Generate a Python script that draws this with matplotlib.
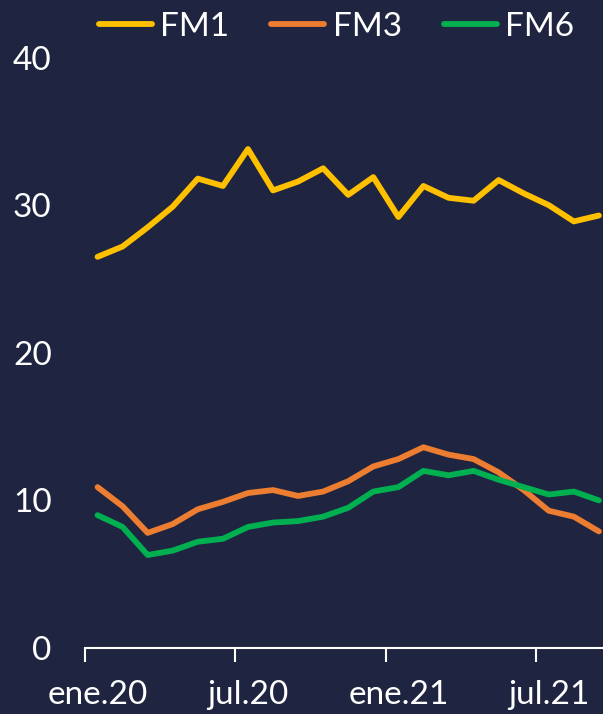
import matplotlib.pyplot as plt

months = ["ene.20", "feb.20", "mar.20", "abr.20", "may.20", "jun.20", "jul.20",
          "ago.20", "sep.20", "oct.20", "nov.20", "dic.20", "ene.21", "feb.21",
          "mar.21", "abr.21", "may.21", "jun.21", "jul.21", "ago.21", "sep.21"]

fm1 = [26.5, 27.2, 28.5, 29.9, 31.8, 31.3, 33.8, 31.0, 31.6, 32.5, 30.7,
       31.9, 29.2, 31.3, 30.5, 30.3, 31.7, 30.8, 30.0, 28.9, 29.3]
fm3 = [10.9, 9.6, 7.8, 8.4, 9.4, 9.9, 10.5, 10.7, 10.3, 10.6, 11.3,
       12.3, 12.8, 13.6, 13.1, 12.8, 11.9, 10.7, 9.3, 8.9, 7.9]
fm6 = [9.0, 8.2, 6.3, 6.6, 7.2, 7.4, 8.2, 8.5, 8.6, 8.9, 9.5,
       10.6, 10.9, 12.0, 11.7, 12.0, 11.4, 10.9, 10.4, 10.6, 10.0]

bg = "#1f2440"
plt.rcParams["font.family"] = ["Lato", "DejaVu Sans"]

fig = plt.figure(figsize=(6.03, 7.14), dpi=100, facecolor=bg)
ax = fig.add_axes([0.141, 0.0924, 0.873, 0.827], facecolor=bg)

x = list(range(len(months)))
ax.plot(x, fm1, color="#ffc000", lw=4.2, solid_capstyle="round", label="FM1")
ax.plot(x, fm3, color="#ed7d31", lw=4.2, solid_capstyle="round", label="FM3")
ax.plot(x, fm6, color="#00b050", lw=4.2, solid_capstyle="round", label="FM6")

ax.set_xlim(-0.5, len(months) - 0.5)
ax.set_ylim(0, 40)
ax.set_yticks([0, 10, 20, 30, 40])
ax.tick_params(axis="y", length=0, pad=24, labelsize=24, labelcolor="white")

# tick marks between categories, labels on the categories
ax.set_xticks([i - 0.5 for i in range(0, len(months), 6)])
ax.set_xticklabels([])
ax.set_xticks(list(range(0, len(months), 6)), minor=True)
ax.set_xticklabels(months[::6], minor=True)
ax.tick_params(axis="x", which="major", length=10, width=1.5, color="white")
ax.tick_params(axis="x", which="minor", length=0, pad=23, labelsize=24,
               labelcolor="white")

for s in ["top", "right", "left"]:
    ax.spines[s].set_visible(False)
ax.spines["bottom"].set_color("white")
ax.spines["bottom"].set_linewidth(1.5)

fig.legend(loc="center", bbox_to_anchor=(0.558, 0.962), ncol=3, frameon=False,
           fontsize=24, labelcolor="white", handlelength=1.6,
           handletextpad=0.25, columnspacing=1.25)

fig.savefig("out.png", facecolor=bg)
